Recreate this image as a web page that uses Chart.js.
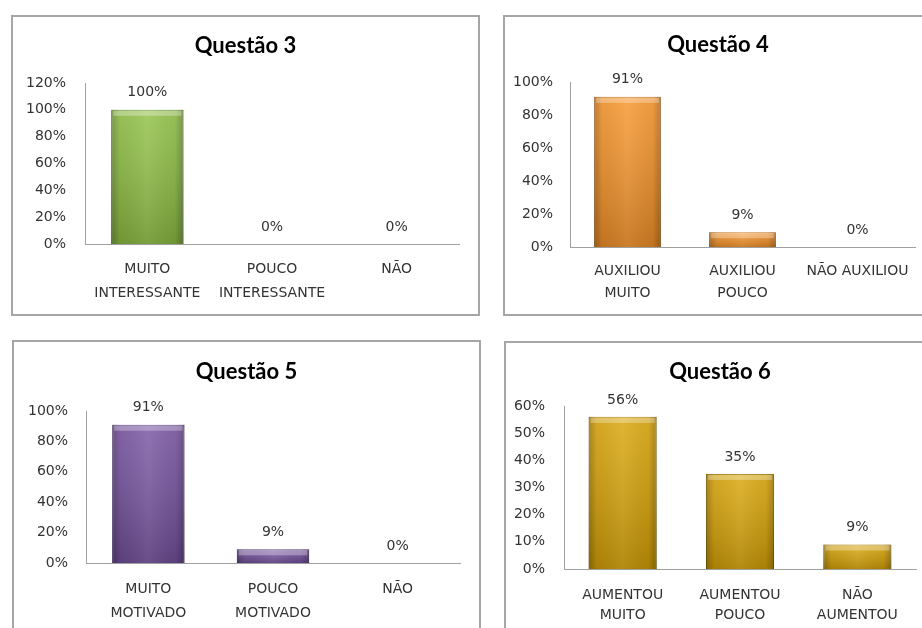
<!DOCTYPE html>
<html>
<head>
<meta charset="utf-8">
<script src="https://cdn.jsdelivr.net/npm/chart.js@4.4.1/dist/chart.umd.min.js"></script>
<style>
  body { margin: 0; width: 922px; height: 628px; overflow: hidden; background: #fff; position: relative; }
  .panel { position: absolute; }
  .panel canvas { position: absolute; left: 0; top: 0; }
  .frame { position: absolute; left: 0; top: 0; right: 0; bottom: 0; border: 2px solid #a6a6a6; box-sizing: border-box; pointer-events: none; }
</style>
</head>
<body>
<div class="panel" id="p3" style="left:11px;top:15px;width:469px;height:301px"><canvas id="c3"></canvas><div class="frame"></div></div>
<div class="panel" id="p4" style="left:503px;top:15px;width:430px;height:301px"><canvas id="c4"></canvas><div class="frame"></div></div>
<div class="panel" id="p5" style="left:12px;top:340px;width:469px;height:300px"><canvas id="c5"></canvas><div class="frame"></div></div>
<div class="panel" id="p6" style="left:504px;top:341px;width:432px;height:300px"><canvas id="c6"></canvas><div class="frame"></div></div>
<script>
// values
const q3Title = 'Questão 3';
const q3Labels = [['MUITO', 'INTERESSANTE'], ['POUCO', 'INTERESSANTE'], ['NÃO']];
const q3Values = [100, 0, 0];

const q4Title = 'Questão 4';
const q4Labels = [['AUXILIOU', 'MUITO'], ['AUXILIOU', 'POUCO'], ['NÃO AUXILIOU']];
const q4Values = [91, 9, 0];

const q5Title = 'Questão 5';
const q5Labels = [['MUITO', 'MOTIVADO'], ['POUCO', 'MOTIVADO'], ['NÃO']];
const q5Values = [91, 9, 0];

const q6Title = 'Questão 6';
const q6Labels = [['AUMENTOU', 'MUITO'], ['AUMENTOU', 'POUCO'], ['NÃO', 'AUMENTOU']];
const q6Values = [56, 35, 9];

const TITLE_FONT = 'Lato, "Open Sans", sans-serif';
const FONT = '"DejaVu Sans", sans-serif';

// title drawn at the top centre of each panel
const titlePlugin = {
  id: 'panelTitle',
  afterDraw(chart, args, opts) {
    const ctx = chart.ctx;
    ctx.save();
    ctx.font = 'bold 22px ' + TITLE_FONT;
    ctx.fillStyle = '#000';
    ctx.textAlign = 'center';
    ctx.textBaseline = 'middle';
    ctx.fillText(opts.text, chart.width / 2, opts.y);
    ctx.restore();
  }
};

// bevel shading on the bars + value labels
const barDeco = {
  id: 'barDeco',
  afterDatasetsDraw(chart) {
    const ctx = chart.ctx;
    const meta = chart.getDatasetMeta(0);
    const data = chart.data.datasets[0].data;
    ctx.save();
    meta.data.forEach((bar, i) => {
      const left = bar.x - bar.width / 2;
      const h = bar.base - bar.y;
      if (h > 0.5) {
        let g = ctx.createLinearGradient(left, 0, left + bar.width, 0);
        g.addColorStop(0, 'rgba(0,0,0,0.28)');
        g.addColorStop(0.12, 'rgba(0,0,0,0.05)');
        g.addColorStop(0.5, 'rgba(255,255,255,0.08)');
        g.addColorStop(0.88, 'rgba(0,0,0,0.05)');
        g.addColorStop(1, 'rgba(0,0,0,0.28)');
        ctx.fillStyle = g;
        ctx.fillRect(left, bar.y, bar.width, h);
        let v = ctx.createLinearGradient(0, bar.y, 0, bar.base);
        v.addColorStop(0, 'rgba(255,255,255,0.12)');
        v.addColorStop(1, 'rgba(0,0,0,0.18)');
        ctx.fillStyle = v;
        ctx.fillRect(left, bar.y, bar.width, h);
        ctx.fillStyle = 'rgba(255,255,255,0.3)';
        ctx.fillRect(left + 2, bar.y + 1, bar.width - 4, Math.min(5, h - 1));
      }
      ctx.font = '14px ' + FONT;
      ctx.fillStyle = '#333';
      ctx.textAlign = 'center';
      ctx.textBaseline = 'middle';
      ctx.fillText(data[i] + '%', bar.x, bar.y - 17);
    });
    ctx.restore();
  }
};

function makeChart(id, title, labels, values, cfg) {
  const canvas = document.getElementById(id);
  const panel = canvas.parentNode;
  const W = panel.offsetWidth, H = panel.offsetHeight;
  return new Chart(canvas, {
    type: 'bar',
    data: {
      labels: labels,
      datasets: [{
        data: values,
        backgroundColor: cfg.color,
        borderColor: cfg.border,
        borderWidth: 1,
        barPercentage: 0.58,
        categoryPercentage: 1
      }]
    },
    options: {
      responsive: false,
      maintainAspectRatio: false,
      animation: false,
      events: [],
      layout: { padding: { top: cfg.plot.t, right: W - cfg.plot.r, left: 0, bottom: 0 } },
      plugins: {
        legend: { display: false },
        tooltip: { enabled: false },
        title: { display: false },
        panelTitle: { text: title, y: cfg.titleY }
      },
      scales: {
        x: {
          grid: { display: false, drawTicks: false },
          border: { display: true, color: '#a0a0a0', width: 1 },
          ticks: {
            color: '#333',
            font: { family: FONT, size: 14, lineHeight: cfg.lineH / 14 },
            padding: cfg.xPad,
            maxRotation: 0,
            autoSkip: false
          },
          afterFit(scale) { scale.height = H - cfg.plot.b; }
        },
        y: {
          min: 0,
          max: cfg.max,
          grid: { display: false, drawTicks: false },
          border: { display: true, color: '#a0a0a0', width: 1 },
          ticks: {
            stepSize: cfg.step,
            color: '#333',
            font: { family: FONT, size: 14 },
            padding: cfg.yPad,
            callback: v => v + '%'
          },
          afterFit(scale) { scale.width = cfg.plot.l; }
        }
      }
    },
    plugins: [titlePlugin, barDeco]
  });
}

function sizeCanvas(id) {
  const c = document.getElementById(id);
  c.width = c.parentNode.offsetWidth;
  c.height = c.parentNode.offsetHeight;
  c.style.width = c.width + 'px';
  c.style.height = c.height + 'px';
}
['c3', 'c4', 'c5', 'c6'].forEach(sizeCanvas);

makeChart('c3', q3Title, q3Labels, q3Values, {
  color: '#8fc043', border: '#5f8a24', max: 120, step: 20,
  plot: { l: 74, t: 68, r: 448, b: 229 }, yPad: 19, xPad: 13, lineH: 24, titleY: 31
});
makeChart('c4', q4Title, q4Labels, q4Values, {
  color: '#f79428', border: '#c86a0c', max: 100, step: 20,
  plot: { l: 67, t: 67, r: 412, b: 232 }, yPad: 17, xPad: 14, lineH: 21.6, titleY: 30
});
makeChart('c5', q5Title, q5Labels, q5Values, {
  color: '#7652a0', border: '#4f3475', max: 100, step: 20,
  plot: { l: 74, t: 71, r: 448, b: 223 }, yPad: 18, xPad: 15, lineH: 23.3, titleY: 32
});
makeChart('c6', q6Title, q6Labels, q6Values, {
  color: '#d9a406', border: '#a57c02', max: 60, step: 10,
  plot: { l: 60, t: 65, r: 412, b: 228 }, yPad: 19, xPad: 16, lineH: 20, titleY: 31
});
</script>
</body>
</html>
